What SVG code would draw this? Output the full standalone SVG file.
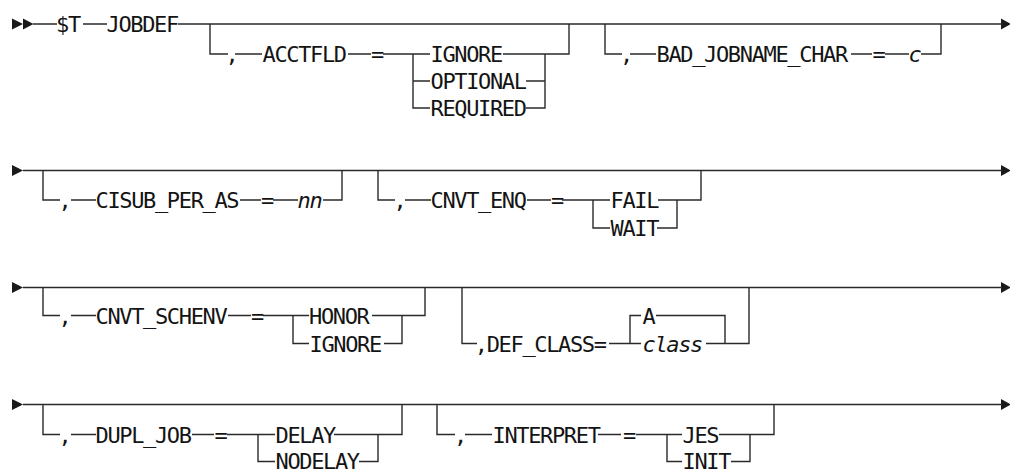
<svg xmlns="http://www.w3.org/2000/svg" width="1010" height="471" viewBox="0 0 1010 471">
<style>
  .bg{fill:#ffffff}
  .t{font-family:"DejaVu Sans Mono","Liberation Mono",monospace;font-size:22px;letter-spacing:-1.35px;fill:#141414}
  .i{font-style:italic}
  .m{text-anchor:middle}
  .ln{fill:none;stroke:#2a2a2a;stroke-width:1.4}
  .ar{fill:#1a1a1a}
</style>
<rect class="bg" x="0" y="0" width="1010" height="471"/>
<g id="connectors">
  <polygon class="ar" points="12,18.5 12,29.5 23,24"/>
  <polygon class="ar" points="23,18.5 23,29.5 33.5,24"/>
  <polygon class="ar" points="1001,18.5 1001,29.5 1011,24"/>
  <polygon class="ar" points="12,165 12,176 23,170.5"/>
  <polygon class="ar" points="1001,165 1001,176 1011,170.5"/>
  <polygon class="ar" points="12,282 12,293 23,287.5"/>
  <polygon class="ar" points="1001,282 1001,293 1011,287.5"/>
  <polygon class="ar" points="12,399 12,410 23,404.5"/>
  <polygon class="ar" points="1001,399 1001,410 1011,404.5"/>
  <path class="ln" d="M33,24 H57 M83,24 H107 M178,24 H1002"/>
  <path class="ln" d="M210,24 V54 H228 M235,54 H262 M348,54 H371 M383,54 H430 M413,54 V108 H430 M413,81 H430 M503,54 H569 V24 M526,81 H545 M526,108 H545 V54"/>
  <path class="ln" d="M605,24 V54 H622 M630,54 H656 M851,54 H872 M885,54 H909 M921,54 H941 V24"/>
  <path class="ln" d="M23,170.5 H1002"/>
  <path class="ln" d="M43,170.5 V200 H60 M71,200 H96 M240,200 H261 M273,200 H298 M323,200 H342 V170.5"/>
  <path class="ln" d="M378,170.5 V200 H395 M405,200 H431 M527,200 H551 M562,200 H610 M593,200 V228 H610 M658,200 H701 V170.5 M657,228 H677 V200"/>
  <path class="ln" d="M23,287.5 H1002"/>
  <path class="ln" d="M43,287.5 V315.5 H60 M71,315.5 H96 M228,315.5 H251 M263,315.5 H309 M293,315.5 V343.5 H309 M372,315.5 H425 V287.5 M384,343.5 H402 V315.5"/>
  <path class="ln" d="M462,287.5 V343.5 H477 M609,343.5 H641 M630,343.5 V315.5 H641 M656,315.5 H725 V343.5 M706,343.5 H749 V287.5"/>
  <path class="ln" d="M23,404.5 H1002"/>
  <path class="ln" d="M43,404.5 V434.5 H60 M71,434.5 H96 M192,434.5 H214 M227,434.5 H275 M258,434.5 V461.5 H275 M334,434.5 H402 V404.5 M359,461.5 H378 V434.5"/>
  <path class="ln" d="M437,404.5 V434.5 H455 M465,434.5 H492 M598,434.5 H621 M636,434.5 H682 M667,434.5 V461.5 H682 M719,434.5 H774 V404.5 M731,461.5 H750 V434.5"/>
</g>
<g id="n-st"><text class="t" x="56" y="32">$T</text></g>
<g id="n-jobdef"><text class="t" x="106.5" y="32">JOBDEF</text></g>
<g id="n-comma1"><text class="t m" x="231.5" y="62">,</text></g>
<g id="n-acctfld"><text class="t" x="262.5" y="62">ACCTFLD</text></g>
<g id="n-eq1"><text class="t m" x="377" y="62">=</text></g>
<g id="n-ignore1"><text class="t" x="430.5" y="62">IGNORE</text></g>
<g id="n-optional"><text class="t" x="430.5" y="89">OPTIONAL</text></g>
<g id="n-required"><text class="t" x="430.5" y="116">REQUIRED</text></g>
<g id="n-comma2"><text class="t m" x="626" y="62">,</text></g>
<g id="n-badjob"><text class="t" x="656.5" y="62">BAD_JOBNAME_CHAR</text></g>
<g id="n-eq2"><text class="t m" x="878.5" y="62">=</text></g>
<g id="n-c"><text class="t i" x="908.5" y="62">c</text></g>
<g id="n-comma3"><text class="t m" x="64.5" y="208">,</text></g>
<g id="n-cisub"><text class="t" x="95.5" y="208">CISUB_PER_AS</text></g>
<g id="n-eq3"><text class="t m" x="267" y="208">=</text></g>
<g id="n-nn"><text class="t i" x="297.5" y="208">nn</text></g>
<g id="n-comma4"><text class="t m" x="399.5" y="208">,</text></g>
<g id="n-cnvtenq"><text class="t" x="430.5" y="208">CNVT_ENQ</text></g>
<g id="n-eq4"><text class="t m" x="557" y="208">=</text></g>
<g id="n-fail"><text class="t" x="610.5" y="208">FAIL</text></g>
<g id="n-wait"><text class="t" x="610.5" y="236">WAIT</text></g>
<g id="n-comma5"><text class="t m" x="64.5" y="323.5">,</text></g>
<g id="n-schenv"><text class="t" x="95.5" y="323.5">CNVT_SCHENV</text></g>
<g id="n-eq5"><text class="t m" x="257" y="323.5">=</text></g>
<g id="n-honor"><text class="t" x="309" y="323.5">HONOR</text></g>
<g id="n-ignore2"><text class="t" x="309.5" y="351.5">IGNORE</text></g>
<g id="n-defclass"><text class="t" x="474.8" y="351.5">,DEF_CLASS=</text></g>
<g id="n-a"><text class="t" x="642.5" y="323.5">A</text></g>
<g id="n-class"><text class="t i" x="642.5" y="351.5">class</text></g>
<g id="n-comma6"><text class="t m" x="64.5" y="442.5">,</text></g>
<g id="n-dupljob"><text class="t" x="95.5" y="442.5">DUPL_JOB</text></g>
<g id="n-eq6"><text class="t m" x="220.5" y="442.5">=</text></g>
<g id="n-delay"><text class="t" x="275.5" y="442.5">DELAY</text></g>
<g id="n-nodelay"><text class="t" x="275.5" y="469">NODELAY</text></g>
<g id="n-comma7"><text class="t m" x="460" y="442.5">,</text></g>
<g id="n-interpret"><text class="t" x="492.5" y="442.5">INTERPRET</text></g>
<g id="n-eq7"><text class="t m" x="629" y="442.5">=</text></g>
<g id="n-jes"><text class="t" x="682.5" y="442.5">JES</text></g>
<g id="n-init"><text class="t" x="682.5" y="469">INIT</text></g>
</svg>
